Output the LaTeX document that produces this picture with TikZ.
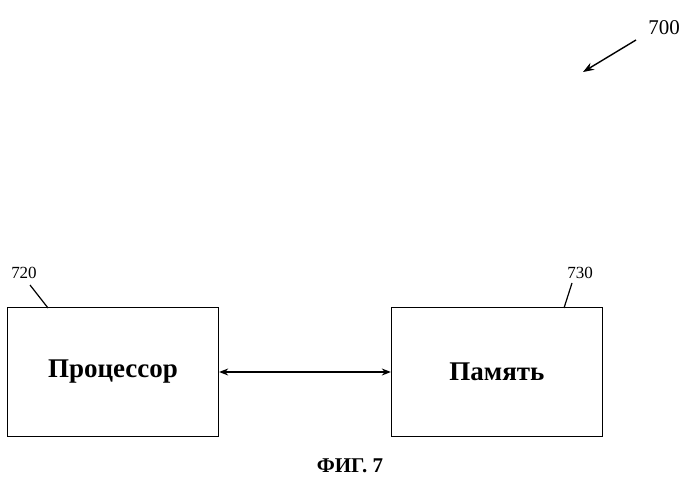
\documentclass[tikz,border=0pt]{standalone}
\usepackage{fontspec}
\setmainfont{Liberation Serif}
\usetikzlibrary{positioning,arrows.meta}
\begin{document}
\begin{tikzpicture}[x=1pt,y=-1pt,
    unit/.style={draw, line width=1.3pt, minimum width=211pt, minimum height=129pt, font=\bfseries\fontsize{27}{30}\selectfont},
    refnum/.style={font=\fontsize{17}{19}\selectfont}]
        \useasboundingbox (0,0) rectangle (699,489);
        \node[unit] at (113, 372)(cpu){Процессор};
        \node[unit] at (497, 372)(mem){Память};
        \node[refnum] at (24, 273)(n720){720};
        \node[refnum] at (580, 273)(n730){730};
        \node[font=\fontsize{21}{23}\selectfont] at (664, 28)(n700){700};
        \node[font=\bfseries\fontsize{21}{24}\selectfont] at (350, 466)(fig){ФИГ. 7};
        \coordinate (tip) at (583, 72);

        \draw[line width=1.2pt] (30, 285) -- (48, 308);
        \draw[line width=1.2pt] (572, 283) -- (564, 308);
        \draw[-{Stealth[length=11pt,width=8pt]}, line width=1.4pt] (636, 40) -- (tip);
        \draw[{Stealth[length=9pt,width=7pt]}-{Stealth[length=9pt,width=7pt]}, line width=1.3pt] (cpu) -- (mem);
    \end{tikzpicture}
\end{document}
